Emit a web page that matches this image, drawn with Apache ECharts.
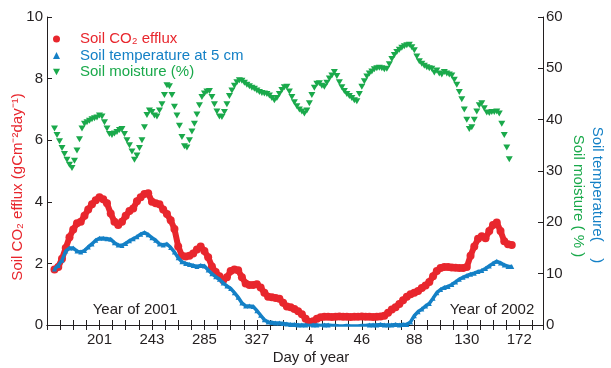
<!DOCTYPE html>
<html>
<head>
<meta charset="utf-8">
<script src="https://cdn.jsdelivr.net/npm/echarts@6/dist/echarts.min.js"></script>
<style>
html,body{margin:0;padding:0;background:#fff;}
#chart{width:611px;height:368px;}
</style>
</head>
<body>
<div id="chart"></div>
<script>
// ---- Data (continuous day index: days of 2002 = 365 + day of year) ----
const seriesNames = ['Soil CO\u2082 efflux', 'Soil temperature at 5 cm', 'Soil moisture (%)'];

// CO2 efflux & soil temperature sampled every 3 days starting at day 165 (2001)
const co2StartDay = 165;
const co2StepDays = 3;
const co2Efflux = [
  1.80,1.88,2.15,2.50,2.85,3.10,3.30,3.35,3.55,3.75,
  3.92,4.05,4.15,4.08,3.95,3.62,3.35,3.25,3.35,3.55,
  3.70,3.78,4.02,4.15,4.25,4.28,4.00,3.95,3.92,3.75,
  3.60,3.40,3.12,2.55,2.25,2.22,2.25,2.32,2.45,2.55,
  2.40,2.20,1.90,1.72,1.58,1.45,1.55,1.75,1.80,1.78,
  1.55,1.35,1.30,1.30,1.32,1.22,1.05,0.92,0.90,0.88,
  0.85,0.72,0.60,0.58,0.52,0.45,0.35,0.20,0.10,0.12,
  0.20,0.25,0.27,0.27,0.26,0.27,0.28,0.27,0.27,0.26,
  0.27,0.27,0.28,0.27,0.27,0.26,0.27,0.28,0.30,0.40,
  0.50,0.58,0.68,0.80,0.92,1.00,1.05,1.10,1.20,1.28,
  1.40,1.58,1.75,1.85,1.88,1.88,1.87,1.86,1.85,1.85,
  1.88,2.25,2.55,2.80,2.88,2.82,3.05,3.25,3.33,3.05,
  2.72,2.62,2.60
];
const soilTemp = [
  10.9,11.6,12.6,14.4,15.0,15.0,14.4,14.2,14.5,15.2,
  15.8,16.5,16.9,16.9,16.8,16.7,16.0,15.6,15.5,15.9,
  16.4,16.8,17.2,17.7,18.0,17.6,17.0,16.5,15.8,15.6,
  15.8,15.1,14.2,13.1,12.3,12.0,11.8,11.6,11.4,11.6,
  11.5,10.7,10.0,9.4,8.9,8.2,7.6,7.1,6.3,5.4,
  4.3,3.7,3.7,3.6,2.8,1.9,1.0,0.6,0.5,0.4,
  0.4,0.3,0.2,0.1,0.1,0.0,0.0,0.0,-0.1,0.0,
  0.0,-0.1,0.0,0.0,-0.1,-0.1,-0.2,-0.2,-0.1,-0.2,
  -0.2,-0.2,-0.1,-0.1,0.0,0.0,0.0,0.1,0.0,0.0,
  0.0,0.1,0.0,0.1,0.1,0.6,1.8,2.6,3.1,3.7,
  4.2,5.2,6.3,6.9,7.3,7.5,7.9,8.4,8.9,9.3,
  9.6,9.9,10.1,10.4,10.6,11.0,11.5,12.0,12.4,12.1,
  11.7,11.4,11.4
];

// Soil moisture sampled every 2 days starting at day 165 (2001)
const moistStartDay = 165;
const moistStepDays = 2;
const soilMoisture = [
  38.3,37.0,35.8,34.5,33.3,32.2,31.2,30.6,32.0,34.0,
  36.2,38.3,39.2,39.5,39.8,40.1,40.3,40.4,40.8,40.6,
  39.5,38.3,37.2,37.0,37.3,37.6,38.0,38.2,37.2,36.0,
  35.0,33.8,32.2,33.0,34.5,36.0,38.5,40.9,41.8,41.5,
  40.8,40.6,41.8,43.0,44.8,46.7,46.5,44.8,42.5,40.8,
  38.8,36.6,34.8,34.6,36.0,37.7,39.2,41.0,42.8,44.4,
  45.1,45.5,45.6,44.4,43.0,41.6,40.6,40.5,41.5,43.0,
  44.6,45.7,46.6,47.3,47.7,47.6,47.2,46.8,46.5,46.2,
  46.0,45.7,45.4,45.2,45.1,45.0,44.7,44.2,43.8,44.2,
  45.0,45.8,46.3,46.4,45.5,44.4,43.4,42.6,42.0,41.6,
  41.2,41.8,43.2,44.8,46.2,47.0,47.1,46.6,46.4,47.2,
  48.0,48.6,49.3,48.5,47.3,46.3,45.6,45.0,44.6,44.2,
  43.8,43.6,45.0,46.4,47.5,48.4,49.0,49.4,49.8,50.0,
  50.1,50.0,49.8,49.9,50.8,51.8,52.6,53.2,53.6,54.0,
  54.3,54.5,54.6,54.1,53.5,52.3,51.4,50.9,50.5,50.2,
  50.0,49.9,49.2,49.6,49.0,48.8,49.3,49.0,48.8,48.6,
  47.8,46.8,45.4,44.0,42.0,40.0,38.2,38.5,40.0,41.6,
  42.8,43.2,42.2,41.4,41.3,41.5,41.5,41.6,41.2,39.2,
  37.0,34.6,32.3
];

// x-axis tick labels (day of year) and their positions on the continuous day index
const xTickDays = [201, 243, 285, 327, 369, 411, 453, 495, 537];
const xTickLabels = ['201', '243', '285', '327', '4', '46', '88', '130', '172'];

// ---- Build ----
const RED = '#e8262d', BLUE = '#1480c6', GREEN = '#1aa94b', INK = '#231f20';
const FONT = '"Liberation Sans", Arial, Helvetica, sans-serif';

function pairs(start, step, vals) {
  return vals.map((v, i) => [start + i * step, v]);
}
const co2Data = pairs(co2StartDay, co2StepDays, co2Efflux);
const tempData = pairs(co2StartDay, co2StepDays, soilTemp);
const moistData = pairs(moistStartDay, moistStepDays, soilMoisture);

const downTri = 'path://M0,0L10,0L5,9Z';

const xCommon = {
  type: 'value', min: 159, max: 556, interval: 10.5,
  axisLine: { show: true, lineStyle: { color: INK, width: 1 } },
  axisTick: { show: true, inside: true, length: 5, lineStyle: { color: INK } },
  splitLine: { show: false }
};

const chart = echarts.init(document.getElementById('chart'), null, { renderer: 'canvas' });
chart.setOption({
  animation: false,
  backgroundColor: '#fff',
  grid: { left: 47, right: 68, top: 17, bottom: 43, containLabel: false },
  legend: {
    orient: 'vertical', left: 53, top: 31, padding: 0,
    itemWidth: 7, itemHeight: 7, itemGap: 0.5,
    selectedMode: false,
    textStyle: { fontFamily: FONT, fontSize: 15, lineHeight: 16, padding: [0, 0, 0, 15] },
    data: [
      { name: seriesNames[0], icon: 'circle', textStyle: { color: RED } },
      { name: seriesNames[1], icon: 'triangle', textStyle: { color: BLUE } },
      { name: seriesNames[2], icon: downTri, textStyle: { color: GREEN } }
    ]
  },
  xAxis: [
    Object.assign({}, xCommon, {
      position: 'bottom',
      axisLabel: {
        show: true, color: INK, fontFamily: FONT, fontSize: 15, margin: 7,
        formatter: function (v) {
          for (let i = 0; i < xTickDays.length; i++) {
            if (Math.abs(v - xTickDays[i]) < 0.01) return xTickLabels[i];
          }
          return '';
        }
      }
    }),
    Object.assign({}, xCommon, { position: 'top', axisLabel: { show: false } })
  ],
  yAxis: [
    {
      type: 'value', min: 0, max: 10, interval: 2, position: 'left',
      axisLine: { show: true, lineStyle: { color: INK } },
      axisTick: { show: true, inside: true, length: 5, lineStyle: { color: INK } },
      axisLabel: { color: INK, fontFamily: FONT, fontSize: 15, margin: 4 },
      splitLine: { show: false }
    },
    {
      type: 'value', min: 0, max: 60, interval: 10, position: 'right',
      axisLine: { show: true, lineStyle: { color: INK } },
      axisTick: { show: true, inside: true, length: 5, lineStyle: { color: INK } },
      axisLabel: { color: INK, fontFamily: FONT, fontSize: 15, margin: 3 },
      splitLine: { show: false }
    }
  ],
  series: [
    {
      name: seriesNames[0], type: 'line', xAxisIndex: 0, yAxisIndex: 0,
      data: co2Data, color: RED,
      symbol: 'circle', symbolSize: 8, showSymbol: true, showAllSymbol: true,
      lineStyle: { width: 6, color: RED },
      itemStyle: { color: RED }, z: 2
    },
    {
      name: seriesNames[1], type: 'line', xAxisIndex: 0, yAxisIndex: 1,
      data: tempData, color: BLUE,
      symbol: 'triangle', symbolSize: 5, showSymbol: true, showAllSymbol: true,
      lineStyle: { width: 3.5, color: BLUE },
      itemStyle: { color: BLUE }, z: 3
    },
    {
      name: seriesNames[2], type: 'scatter', xAxisIndex: 0, yAxisIndex: 1,
      data: moistData, color: GREEN,
      symbol: downTri, symbolSize: [7, 6],
      itemStyle: { color: GREEN, opacity: 1 }, z: 4
    }
  ],
  graphic: [
    { type: 'text', x: 18, y: 187, rotation: Math.PI / 2,
      style: { text: 'Soil CO\u2082 efflux (gCm\u207B\u00B2day\u207B\u00B9)', fill: RED, font: '15px ' + FONT, textAlign: 'center', textVerticalAlign: 'middle' } },
    { type: 'text', x: 597, y: 195, rotation: -Math.PI / 2,
      style: { text: 'Soil temperature(    )', fill: BLUE, font: '15px ' + FONT, textAlign: 'center', textVerticalAlign: 'middle' } },
    { type: 'text', x: 578, y: 196, rotation: -Math.PI / 2,
      style: { text: 'Soil moisture ( % )', fill: GREEN, font: '15px ' + FONT, textAlign: 'center', textVerticalAlign: 'middle' } },
    { type: 'text', x: 135, y: 310,
      style: { text: 'Year of 2001', fill: INK, font: '15px ' + FONT, textAlign: 'center', textVerticalAlign: 'middle' } },
    { type: 'text', x: 492, y: 310,
      style: { text: 'Year of 2002', fill: INK, font: '15px ' + FONT, textAlign: 'center', textVerticalAlign: 'middle' } },
    { type: 'text', x: 311, y: 358,
      style: { text: 'Day of year', fill: INK, font: '15px ' + FONT, textAlign: 'center', textVerticalAlign: 'middle' } }
  ]
});
</script>
</body>
</html>
